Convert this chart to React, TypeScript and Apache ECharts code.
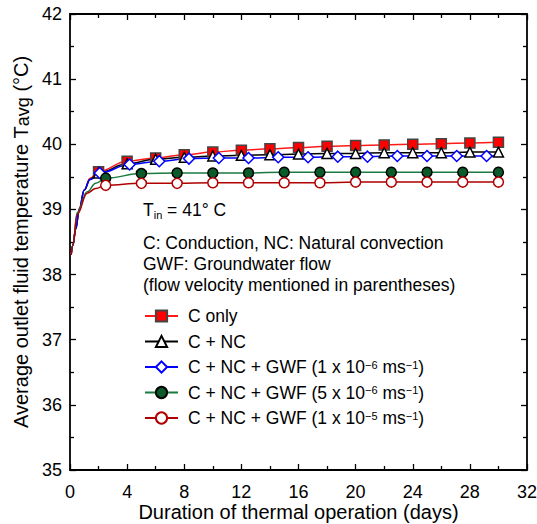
import React, { useEffect, useRef } from 'react';
import * as echarts from 'echarts';

const FONT = '"Liberation Sans", Arial, sans-serif';

// early transient (line only, no markers)
const earlyDaysC = [0.08, 0.2, 0.4, 0.65, 1.0, 1.4];
const earlyTempCOnly = [38.3, 38.45, 38.7, 39.02, 39.3, 39.48];
const earlyTempCNc = [38.3, 38.45, 38.7, 39.0, 39.3, 39.46];
const earlyTempGwf1 = [38.3, 38.45, 38.7, 39.0, 39.3, 39.46];
const earlyDaysGwf = [0.08, 0.2, 0.5, 1.2, 1.8];
const earlyTempGwf5 = [38.3, 38.45, 38.95, 39.27, 39.4];
const earlyTempGwf10 = [38.3, 38.45, 38.92, 39.25, 39.32];

// marker points
const evenDays = [2, 4, 6, 8, 10, 12, 14, 16, 18, 20, 22, 24, 26, 28, 30];
const cOnly = [39.58, 39.74, 39.79, 39.84, 39.88, 39.91, 39.93, 39.95, 39.97, 39.98, 39.99, 40.0, 40.01, 40.02, 40.03];
const cNc = [39.56, 39.7, 39.77, 39.8, 39.82, 39.83, 39.84, 39.85, 39.86, 39.86, 39.87, 39.87, 39.87, 39.88, 39.88];
const gwf1Days = [2.08, 4.17, 6.25, 8.33, 10.42, 12.5, 14.58, 16.67, 18.75, 20.83, 22.92, 25.0, 27.08, 29.17];
const gwf1 = [39.56, 39.69, 39.74, 39.78, 39.79, 39.79, 39.8, 39.8, 39.81, 39.81, 39.82, 39.82, 39.82, 39.82];
const gwf1EndDay = 30;
const gwf1EndTemp = 39.82;
const quarterDays = [2.5, 5, 7.5, 10, 12.5, 15, 17.5, 20, 22.5, 25, 27.5, 30];
const gwf5 = [39.48, 39.55, 39.56, 39.56, 39.56, 39.57, 39.57, 39.57, 39.57, 39.57, 39.57, 39.57];
const gwf10 = [39.37, 39.4, 39.4, 39.41, 39.41, 39.41, 39.41, 39.42, 39.42, 39.42, 39.42, 39.42];

const seriesNames = [
  'C only',
  'C + NC',
  'C + NC + GWF (1 x 10-6 ms-1)',
  'C + NC + GWF (5 x 10-6 ms-1)',
  'C + NC + GWF (1 x 10-5 ms-1)',
];
const legendRich: Record<string, string> = {
  'C only': '{n|C only}',
  'C + NC': '{n|C + NC}',
  'C + NC + GWF (1 x 10-6 ms-1)': '{n|C + NC + GWF (1 x 10}{p|−6}{n| ms}{p|−1}{n|)}',
  'C + NC + GWF (5 x 10-6 ms-1)': '{n|C + NC + GWF (5 x 10}{p|−6}{n| ms}{p|−1}{n|)}',
  'C + NC + GWF (1 x 10-5 ms-1)': '{n|C + NC + GWF (1 x 10}{p|−5}{n| ms}{p|−1}{n|)}',
};

function buildData(eDays: number[], eTemps: number[], mDays: number[], mTemps: number[], tail?: [number, number]) {
  const d: any[] = [];
  eDays.forEach((x, i) => d.push({ value: [x, eTemps[i]], symbol: 'none' }));
  mDays.forEach((x, i) => d.push({ value: [x, mTemps[i]] }));
  if (tail) d.push({ value: tail, symbol: 'none' });
  return d;
}

function mkSeries(name: string, data: any[], lineColor: string, symbol: string, size: number, fill: string, border: string) {
  return {
    name,
    type: 'line',
    data,
    smooth: 0.4,
    smoothMonotone: 'x',
    symbol,
    symbolSize: size,
    showAllSymbol: true,
    lineStyle: { color: lineColor, width: 1.5 },
    itemStyle: { color: fill, borderColor: border, borderWidth: 1.5 },
    emphasis: { disabled: true },
  };
}

export default function App() {
  const ref = useRef<HTMLDivElement>(null);
  useEffect(() => {
    if (!ref.current) return;
    const chart = echarts.init(ref.current, undefined, { renderer: 'svg' });
    const axisLine = { show: true, onZero: false, lineStyle: { color: '#000', width: 1.8 } };
    const tick = { show: true, inside: true, length: 6, lineStyle: { color: '#000', width: 1.3 } };
    const minor = { show: true, splitNumber: 2, length: 4, lineStyle: { color: '#000', width: 1.3 } };
    const tickLabel = { fontSize: 18, color: '#000', fontFamily: FONT };
    const titleStyle = { fontSize: 20, color: '#000', fontFamily: FONT };
    chart.setOption({
      animation: false,
      backgroundColor: '#fff',
      grid: { left: 70, top: 14, right: 10, bottom: 54, containLabel: false, outerBoundsMode: 'none' },
      xAxis: [
        {
          type: 'value', min: 0, max: 32, interval: 4, position: 'bottom',
          axisLine, axisTick: tick, minorTick: minor, splitLine: { show: false },
          axisLabel: { ...tickLabel, margin: 13 },
          name: 'Duration of thermal operation (days)', nameLocation: 'middle', nameGap: 32,
          nameMoveOverlap: false,
          nameTextStyle: titleStyle,
        },
        {
          type: 'value', min: 0, max: 32, interval: 4, position: 'top',
          axisLine, axisTick: tick, minorTick: minor, splitLine: { show: false },
          axisLabel: { show: false },
        },
      ],
      yAxis: [
        {
          type: 'value', min: 35, max: 42, interval: 1, position: 'left',
          axisLine, axisTick: tick, minorTick: minor, splitLine: { show: false },
          axisLabel: { ...tickLabel, margin: 8 },
          name: '{n|Average outlet fluid temperature T}{s|avg}{n| (°C)}', nameLocation: 'middle', nameGap: 38,
          nameMoveOverlap: false,
          nameTextStyle: {
            ...titleStyle,
            rich: {
              n: { fontSize: 20, fontFamily: FONT, color: '#000', lineHeight: 22 },
              s: { fontSize: 18, fontFamily: FONT, color: '#000', lineHeight: 22, verticalAlign: 'bottom' },
            },
          },
        },
        {
          type: 'value', min: 35, max: 42, interval: 1, position: 'right',
          axisLine, axisTick: tick, minorTick: minor, splitLine: { show: false },
          axisLabel: { show: false },
        },
      ],
      legend: {
        show: true,
        data: seriesNames,
        orient: 'vertical',
        left: 144,
        top: 307,
        padding: 0,
        itemWidth: 33,
        itemHeight: 14,
        itemGap: 7.5,
        selectedMode: false,
        formatter: (name: string) => legendRich[name] || name,
        textStyle: {
          fontSize: 17.5, fontFamily: FONT, color: '#000', padding: [0, 0, 0, 5],
          rich: {
            n: { fontSize: 17.5, fontFamily: FONT, color: '#000', lineHeight: 16 },
            p: { fontSize: 11, fontFamily: FONT, color: '#000', lineHeight: 16, verticalAlign: 'top' },
          },
        },
      },
      graphic: [
        {
          type: 'text', left: 143, top: 201, silent: true,
          style: {
            text: '{m|T}{s|in}{m| = 41° C}',
            rich: {
              m: { fontSize: 17.5, fontFamily: FONT, fill: '#000', lineHeight: 20 },
              s: { fontSize: 11, fontFamily: FONT, fill: '#000', lineHeight: 20, verticalAlign: 'bottom' },
            },
          },
        },
        {
          type: 'text', left: 143, top: 232.5, silent: true,
          style: {
            text: 'C: Conduction, NC: Natural convection\nGWF: Groundwater flow\n(flow velocity mentioned in parentheses)',
            fontSize: 17.5, fontFamily: FONT, fill: '#000', lineHeight: 21,
          },
        },
      ],
      series: [
        mkSeries(seriesNames[0], buildData(earlyDaysC, earlyTempCOnly, evenDays, cOnly), '#ff1a1a', 'rect', 10, '#ff0000', '#444444'),
        mkSeries(seriesNames[1], buildData(earlyDaysC, earlyTempCNc, evenDays, cNc), '#000000', 'triangle', 10, '#ffffff', '#000000'),
        mkSeries(seriesNames[2], buildData(earlyDaysC, earlyTempGwf1, gwf1Days, gwf1, [gwf1EndDay, gwf1EndTemp]), '#0000ff', 'diamond', 11, '#ffffff', '#0000ff'),
        mkSeries(seriesNames[3], buildData(earlyDaysGwf, earlyTempGwf5, quarterDays, gwf5), '#1a7a40', 'circle', 10, '#0b5a2a', '#000000'),
        mkSeries(seriesNames[4], buildData(earlyDaysGwf, earlyTempGwf10, quarterDays, gwf10), '#b00000', 'circle', 10, '#ffffff', '#b00000'),
      ],
    });
    return () => chart.dispose();
  }, []);
  return <div ref={ref} style={{ position: 'absolute', left: 0, top: 0, width: 537, height: 524 }} />;
}
